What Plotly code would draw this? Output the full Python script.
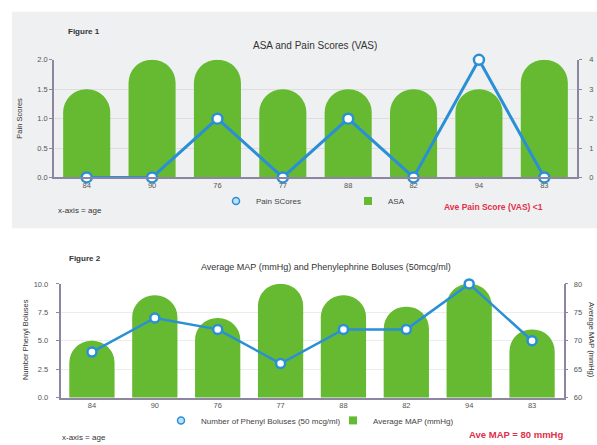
import plotly.graph_objects as go

# ---------------- data ----------------
ages = ["84", "90", "76", "77", "88", "82", "94", "83"]

# Figure 1
asa_scores = [1.5, 2, 2, 1.5, 1.5, 1.5, 1.5, 2]
pain_scores = [0, 0, 2, 0, 2, 0, 4, 0]
fig1_left_ticks = [0, 0.5, 1.0, 1.5, 2.0]
fig1_right_ticks = [0, 1, 2, 3, 4]

# Figure 2
avg_map = [70, 78, 74, 80, 78, 76, 80, 72]
phenyl_boluses = [4, 7, 6, 3, 6, 6, 10, 5]
fig2_left_ticks = [0, 2.5, 5.0, 7.5, 10.0]
fig2_right_ticks = [60, 65, 70, 75, 80]

# ---------------- styling ----------------
W, H = 597, 445
GREEN = "#65ba31"
BLUE = "#2a8fd6"
AXIS = "#8c86a0"
GRID = "#dedede"
TXT = "#333333"
RED = "#e0304a"
FONT = "Liberation Sans, Arial, sans-serif"


def px(x):
    return x / W


def py(y):
    return 1 - y / H


fig = go.Figure()

# ---- Figure 1 traces ----
fig.add_trace(go.Bar(
    x=ages, y=asa_scores, xaxis="x", yaxis="y", name="ASA",
    marker=dict(color=GREEN, cornerradius="50%", line=dict(width=0)),
    showlegend=False,
))
fig.add_trace(go.Scatter(
    x=ages, y=pain_scores, xaxis="x", yaxis="y2", name="Pain SCores",
    mode="lines+markers", line=dict(color=BLUE, width=3),
    marker=dict(size=10, color="white", line=dict(color=BLUE, width=2.5)),
    showlegend=False, cliponaxis=False,
))
# legend entries (figure 1)
fig.add_trace(go.Scatter(
    x=[None], y=[None], xaxis="x", yaxis="y2", name="Pain SCores", mode="markers",
    marker=dict(size=7, color="#bfe0f6", line=dict(color=BLUE, width=1.5)),
    legend="legend", legendrank=1,
))
fig.add_trace(go.Scatter(
    x=[None], y=[None], xaxis="x", yaxis="y", name="ASA", mode="markers",
    marker=dict(size=8, color=GREEN, symbol="square"),
    legend="legend", legendrank=2,
))

# ---- Figure 2 traces ----
fig.add_trace(go.Bar(
    x=ages, y=avg_map, xaxis="x2", yaxis="y3", name="Average MAP (mmHg)",
    marker=dict(color=GREEN, cornerradius="50%", line=dict(width=0)),
    showlegend=False,
))
fig.add_trace(go.Scatter(
    x=ages, y=phenyl_boluses, xaxis="x2", yaxis="y4",
    name="Number of Phenyl Boluses (50 mcg/ml)",
    mode="lines+markers", line=dict(color=BLUE, width=2.5),
    marker=dict(size=9, color="white", line=dict(color=BLUE, width=2.5)),
    showlegend=False, cliponaxis=False,
))
fig.add_trace(go.Scatter(
    x=[None], y=[None], xaxis="x2", yaxis="y4",
    name="Number of Phenyl Boluses (50 mcg/ml)", mode="markers",
    marker=dict(size=7, color="#bfe0f6", line=dict(color=BLUE, width=1.5)),
    legend="legend2", legendrank=1,
))
fig.add_trace(go.Scatter(
    x=[None], y=[None], xaxis="x2", yaxis="y3", name="Average MAP (mmHg)",
    mode="markers", marker=dict(size=8, color=GREEN, symbol="square"),
    legend="legend2", legendrank=2,
))

tickfont = dict(family=FONT, size=7.5, color="#555555")

common_x = dict(
    type="category", showgrid=False, showline=True, linecolor=AXIS, linewidth=1.5,
    ticks="", tickfont=tickfont, zeroline=False, fixedrange=True,
)

legfont = dict(family=FONT, size=8, color="#444444")

fig.update_layout(
    width=W, height=H,
    margin=dict(l=0, r=0, t=0, b=0),
    paper_bgcolor="white",
    plot_bgcolor="rgba(0,0,0,0)",
    font=dict(family=FONT, color=TXT),
    bargap=0.28,
    xaxis=dict(domain=[px(54), px(577)], anchor="y", **common_x),
    yaxis=dict(
        domain=[py(177), py(57)], range=[0, 2], tickvals=fig1_left_ticks,
        tickformat=".1f", showgrid=True, gridcolor=GRID, gridwidth=1,
        showline=True, linecolor=AXIS, linewidth=1.5, ticks="outside",
        ticklen=3, tickcolor=AXIS, tickfont=tickfont, zeroline=False,
        anchor="x", side="left",
    ),
    yaxis2=dict(
        range=[0, 4], tickvals=fig1_right_ticks, overlaying="y", side="right",
        anchor="x", showgrid=False, showline=True, linecolor=AXIS, linewidth=1.5,
        ticks="outside", ticklen=3, tickcolor=AXIS, tickfont=tickfont,
        zeroline=False, ticklabelstandoff=6,
    ),
    xaxis2=dict(domain=[px(60.5), px(563.5)], anchor="y3", **common_x),
    yaxis3=dict(
        domain=[py(401.7), py(285.7)], range=[60, 80], tickvals=fig2_right_ticks,
        side="right", anchor="x2", showgrid=False, showline=True,
        linecolor=AXIS, linewidth=1.5, ticks="outside", ticklen=3,
        tickcolor=AXIS, tickfont=tickfont, zeroline=False, ticklabelstandoff=4,
    ),
    yaxis4=dict(
        range=[0, 10], tickvals=fig2_left_ticks, tickformat=".1f",
        overlaying="y3", side="left", anchor="x2", showgrid=True,
        gridcolor="#ececec", showline=True, linecolor=AXIS, linewidth=1.5,
        ticks="outside", ticklen=3, tickcolor=AXIS, tickfont=tickfont,
        zeroline=False, ticklabelstandoff=6,
    ),
    legend=dict(
        orientation="h", x=px(216), y=py(201), xanchor="left", yanchor="middle",
        font=legfont, bgcolor="rgba(0,0,0,0)",
        entrywidth=87, entrywidthmode="pixels", itemwidth=30,
        traceorder="normal",
    ),
    legend2=dict(
        orientation="h", x=px(161), y=py(425), xanchor="left", yanchor="middle",
        font=legfont, bgcolor="rgba(0,0,0,0)",
        entrywidth=127, entrywidthmode="pixels", itemwidth=30,
        traceorder="normal",
    ),
    shapes=[
        dict(type="rect", xref="paper", yref="paper", x0=px(12), x1=1,
             y0=py(229), y1=py(8), fillcolor="#eff0f1", line=dict(width=0),
             layer="below"),
    ],
)


def ann(text, x, y, size=8, color=TXT, xanchor="left", angle=0, bold=False):
    if bold:
        text = "<b>" + text + "</b>"
    fig.add_annotation(
        text=text, x=px(x), y=py(y), xref="paper", yref="paper",
        xanchor=xanchor, yanchor="middle", showarrow=False, textangle=angle,
        font=dict(family=FONT, size=size, color=color),
    )


# Figure 1 texts
ann("Figure 1", 66, 28, size=8, bold=True)
ann("ASA and Pain Scores (VAS)", 315, 42, size=10, xanchor="center")
ann("Pain Scores", 20, 117, size=7.5, xanchor="center", angle=-90)
ann("x-axis = age", 56, 211, size=8)
ann("Ave Pain Score (VAS) <1", 442, 207, size=8.5, color=RED, bold=True)

# Figure 2 texts
ann("Figure 2", 67, 260, size=8, bold=True)
ann("Average MAP (mmHg) and Phenylephrine Boluses (50mcg/ml)", 326, 268,
    size=9, xanchor="center")
ann("Number Phenyl Boluses", 25, 343, size=7.5, xanchor="center", angle=-90)
ann("Average MAP (mmHg)", 592, 343, size=7.5, xanchor="center", angle=90)
ann("x-axis = age", 60, 442, size=8)
ann("Ave MAP = 80 mmHg", 467, 439, size=9.5, color=RED, bold=True)

fig.write_html("out.html")
